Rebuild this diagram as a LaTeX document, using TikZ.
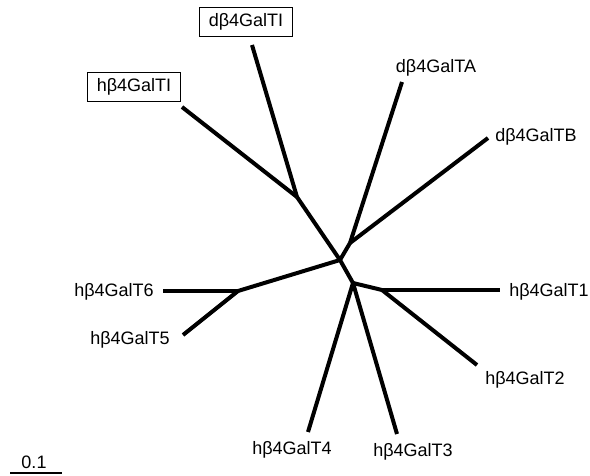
\documentclass[tikz,border=0pt]{standalone}
\usepackage{fontspec}
\setmainfont{Liberation Sans}
\begin{document}
\begin{tikzpicture}[%
  x=0.5pt, y=-0.5pt,
  branch/.style={line width=2pt},
  leaf/.style={font=\fontsize{9}{11}\selectfont, inner sep=0pt},
  boxed/.style={leaf, draw, line width=0.5pt, inner xsep=4.5pt, minimum height=14.5pt}]
\useasboundingbox (0,0) rectangle (590,476);
% inner nodes of the tree
\coordinate (c) at (340,260);
\coordinate (ti) at (297,197);
\coordinate (dab) at (350,243);
\coordinate (low) at (353,283);
\coordinate (t12) at (382,290);
\coordinate (t56) at (238,291);
% branch tips
\coordinate (hTIend) at (182,107);
\coordinate (dTIend) at (252,45);
\coordinate (dTAend) at (402,82);
\coordinate (dTBend) at (488,138);
\coordinate (T1end) at (500,290);
\coordinate (T2end) at (477,365);
\coordinate (T3end) at (397,434);
\coordinate (T4end) at (308,432);
\coordinate (T5end) at (183,335);
\coordinate (T6end) at (163,291);
% labels
\node[boxed] (dTI) at (246,22) {dβ4GalTI};
\node[boxed] (hTI) at (134,87) {hβ4GalTI};
\node[leaf] (dTA) at (436,68) {dβ4GalTA};
\node[leaf] (dTB) at (536,137) {dβ4GalTB};
\node[leaf] (T1) at (549,292) {hβ4GalT1};
\node[leaf] (T2) at (525,380) {hβ4GalT2};
\node[leaf] (T3) at (413,452) {hβ4GalT3};
\node[leaf] (T4) at (292,450) {hβ4GalT4};
\node[leaf] (T5) at (130,340) {hβ4GalT5};
\node[leaf] (T6) at (114,292) {hβ4GalT6};
% branches
\draw[branch] (hTIend) -- (ti);
\draw[branch] (dTIend) -- (ti);
\draw[branch] (ti) -- (c);
\draw[branch] (dTAend) -- (dab);
\draw[branch] (dTBend) -- (dab);
\draw[branch] (dab) -- (c);
\draw[branch] (c) -- (low);
\draw[branch] (low) -- (t12);
\draw[branch] (t12) -- (T1end);
\draw[branch] (t12) -- (T2end);
\draw[branch] (low) -- (T3end);
\draw[branch] (low) -- (T4end);
\draw[branch] (c) -- (t56);
\draw[branch] (t56) -- (T5end);
\draw[branch] (t56) -- (T6end);
% scale bar
\coordinate (barl) at (10,473);
\coordinate (barr) at (62,473);
\draw[line width=1pt] (barl) -- (barr);
\node[leaf] (scale) at (34,462) {0.1};
\end{tikzpicture}
\end{document}
